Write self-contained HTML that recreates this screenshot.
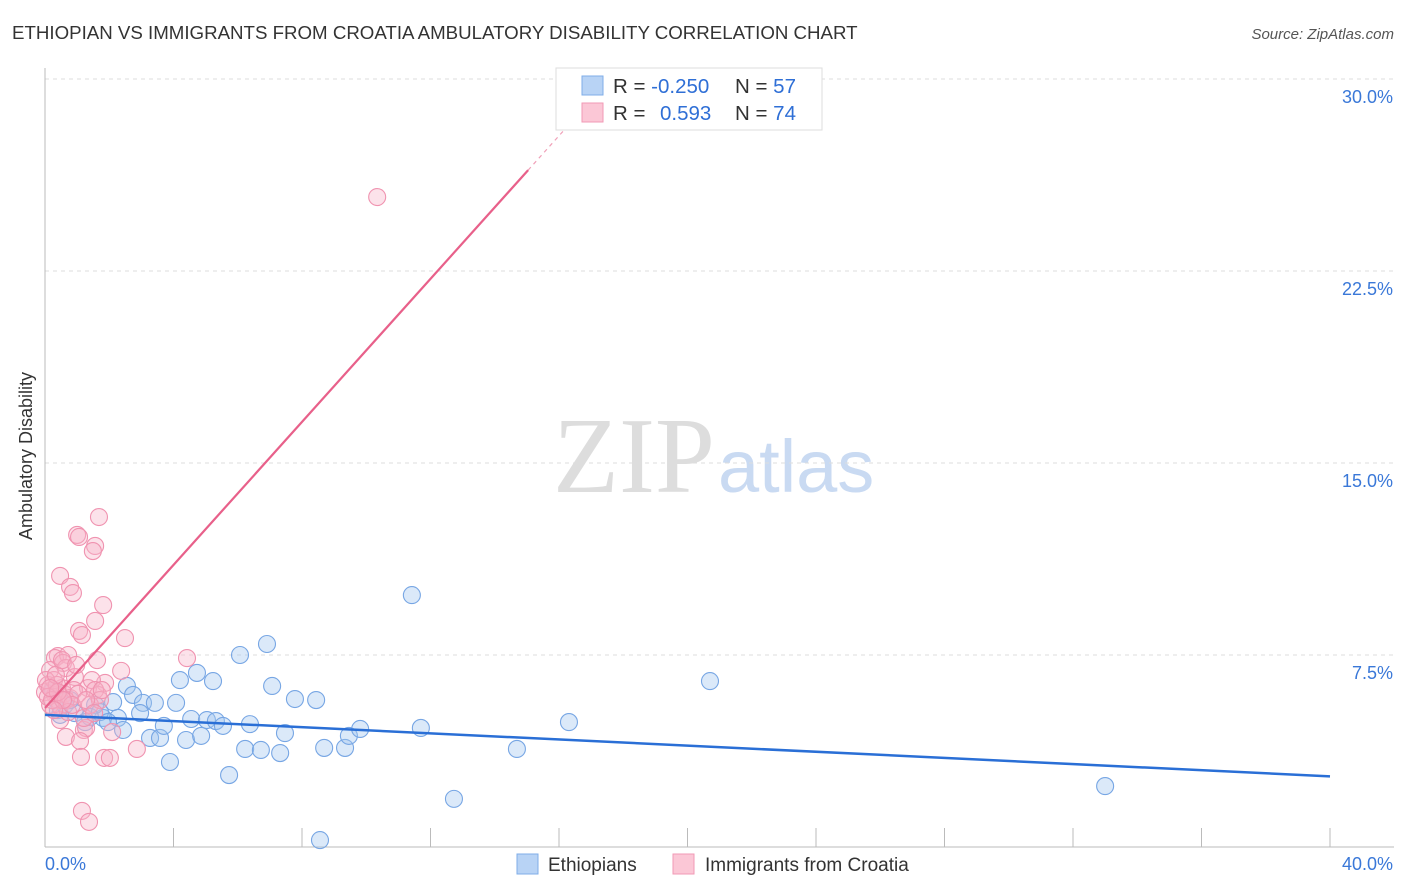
<!DOCTYPE html>
<html><head><meta charset="utf-8"><style>
body{margin:0;background:#fff;font-family:"Liberation Sans",sans-serif}
svg{display:block}
</style></head><body>
<svg width="1406" height="892" id="c">
<text x="12" y="39" font-size="18.7" fill="#333">ETHIOPIAN VS IMMIGRANTS FROM CROATIA AMBULATORY DISABILITY CORRELATION CHART</text>
<text x="1394" y="39" font-size="15" fill="#555" font-style="italic" text-anchor="end">Source: ZipAtlas.com</text>
<text x="32" y="456" font-size="18" fill="#333" text-anchor="middle" transform="rotate(-90 32 456)">Ambulatory Disability</text>
<g>
<text x="553" y="492" font-family="Liberation Serif,serif" font-size="108" fill="#ddd">ZIP</text>
<text x="718" y="492" font-size="74" fill="#c9daf2">atlas</text>
</g>
<g id="grid"></g><g id="axes"></g><g id="marks"></g>
<g>
<rect x="556" y="68" width="266" height="62" fill="#fff" stroke="#ddd"/>
<rect x="582" y="76" width="21" height="19" fill="#b8d3f5" stroke="#7faee8"/>
<rect x="582" y="103" width="21" height="19" fill="#fbc7d6" stroke="#f19ab5"/>
<text x="613" y="93" font-size="20.5" fill="#333">R = <tspan fill="#2f6fd6">-0.250</tspan></text>
<text x="735" y="93" font-size="20.5" fill="#333">N = <tspan fill="#2f6fd6">57</tspan></text>
<text x="613" y="120" font-size="20.5" fill="#333">R = </text>
<text x="660" y="120" font-size="20.5" fill="#2f6fd6">0.593</text>
<text x="735" y="120" font-size="20.5" fill="#333">N = <tspan fill="#2f6fd6">74</tspan></text>
</g>
<g>
<rect x="517" y="854" width="21" height="20" fill="#b8d3f5" stroke="#7faee8"/>
<text x="548" y="871" font-size="19" fill="#333">Ethiopians</text>
<rect x="673" y="854" width="21" height="20" fill="#fbc7d6" stroke="#f19ab5"/>
<text x="705" y="871" font-size="19" fill="#333">Immigrants from Croatia</text>
</g>
</svg>
<script>
const yTicks=[7.5,15,22.5,30];
const yTickLabels=["7.5%","15.0%","22.5%","30.0%"];
const xTickLabels=["0.0%","40.0%"];
const blueX=[2.55,2.74,3.05,3.42,2.12,1.81,2.27,2.43,2.96,3.27,3.58,3.89,3.70,4.08,4.20,4.39,4.55,4.73,4.86,5.04,5.23,5.32,5.54,5.73,6.07,6.23,6.38,6.72,6.91,7.07,7.32,7.47,7.78,8.44,8.69,8.56,9.34,9.46,9.81,11.42,11.70,12.73,14.69,16.31,20.70,33.00,0.25,0.40,0.62,0.93,1.25,1.56,0.78,0.47,1.40,1.71,1.96];
const blueY=[6.29,5.94,5.63,5.63,5.66,5.04,5.04,4.57,5.23,4.26,4.26,3.32,4.73,5.63,6.52,4.18,5.00,6.80,4.34,4.96,6.48,4.92,4.73,2.81,7.50,3.83,4.80,3.79,7.93,6.29,3.67,4.45,5.78,5.74,3.87,0.27,3.87,4.34,4.61,9.84,4.65,1.88,3.83,4.88,6.48,2.38,6.13,5.35,5.55,5.23,4.88,5.55,5.74,5.16,5.08,5.27,4.88];
const pinkX=[10.34,1.68,1.00,1.06,1.56,1.49,0.47,0.78,0.87,1.81,1.56,1.06,1.15,2.49,0.40,0.31,0.72,1.62,4.42,2.37,0.56,0.16,0.65,0.93,1.34,1.87,1.46,1.65,2.09,1.21,1.28,0.65,1.09,1.12,1.84,2.02,2.86,1.15,1.37,0.09,0.22,0.31,0.40,0.53,0.00,0.16,0.28,0.47,0.59,0.78,0.90,0.37,0.09,0.22,0.03,0.65,1.03,1.21,1.40,1.56,1.71,0.47,0.72,0.84,0.34,0.53,0.97,1.28,1.53,1.77,0.40,0.56,0.16,0.28];
const pinkY=[25.39,12.89,12.19,12.11,11.76,11.56,10.59,10.16,9.92,9.45,8.83,8.44,8.28,8.16,7.46,7.38,7.50,7.30,7.38,6.88,7.19,6.91,6.99,6.64,6.21,6.41,6.52,5.94,4.49,4.57,4.65,4.30,4.14,3.52,3.48,3.48,3.83,1.41,0.98,6.33,6.13,5.94,5.74,6.21,6.05,5.55,6.52,5.51,5.98,5.82,6.13,6.33,5.86,5.74,6.52,5.74,5.98,5.04,5.55,6.13,5.74,4.96,5.27,5.55,6.72,7.30,7.11,5.74,5.23,6.13,6.05,5.74,6.21,5.35];
const blueTrend=[5.16,-0.06];   // intercept, slope
const pinkTrend=[5.43,1.397];
const X0=45,X1=1330,Y0=847,Y1=79;
const sx=v=>X0+(X1-X0)*v/40, sy=v=>Y0-(Y0-Y1)*v/30;
const NS="http://www.w3.org/2000/svg";
function mk(t,a,p){const e=document.createElementNS(NS,t);for(const k in a)e.setAttribute(k,a[k]);p.appendChild(e);return e;}
const grid=document.getElementById('grid'),axes=document.getElementById('axes'),marks=document.getElementById('marks');
yTicks.forEach((v,i)=>{
 const l=mk('line',{x1:X0,x2:1394,y1:sy(v),y2:sy(v),stroke:'#ddd','stroke-dasharray':'4,4'},grid);
 
 
 const t=mk('text',{x:1393,y:sy(v)+24,'font-size':18,fill:'#3a78d8','text-anchor':'end'},axes);
 t.textContent=yTickLabels[i];
 
 
});
let a=mk('line',{x1:X0,x2:X0,y1:68,y2:Y0,stroke:'#bbb'},axes);


a=mk('line',{x1:X0,x2:1394,y1:Y0,y2:Y0,stroke:'#bbb'},axes);


for(let i=0;i<=10;i++){
 const t=mk('line',{x1:sx(i*4),x2:sx(i*4),y1:828,y2:Y0,stroke:'#bbb'},axes);
 
 
}
[[0,'start',45],[40,'end',1393]].forEach((d,i)=>{
 const t=mk('text',{x:d[2],y:870,'font-size':18,fill:'#3a78d8','text-anchor':d[1]},axes);
 t.textContent=xTickLabels[i];
 
 
});
function pts(xs,ys,fill,stroke,name){
 xs.forEach((x,i)=>{
  const c=mk('circle',{cx:sx(x),cy:sy(ys[i]),r:8.5,fill:fill,stroke:stroke,'stroke-width':1.1},marks);
  
  
 });
}
pts(blueX,blueY,'rgba(160,196,240,0.38)','#77a6e4','ethiopian-point');
pts(pinkX,pinkY,'rgba(248,178,200,0.38)','#f093b0','croatia-point');
let l=mk('line',{x1:sx(0),y1:sy(blueTrend[0]),x2:sx(40),y2:sy(blueTrend[0]+40*blueTrend[1]),stroke:'#2a6fd6','stroke-width':2.5},marks);


const pe=15.04,pd=16.6;
l=mk('line',{x1:sx(0),y1:sy(pinkTrend[0]),x2:sx(pe),y2:sy(pinkTrend[0]+pe*pinkTrend[1]),stroke:'#e8608a','stroke-width':2.2},marks);


l=mk('line',{x1:sx(pe),y1:sy(pinkTrend[0]+pe*pinkTrend[1]),x2:sx(pd),y2:sy(pinkTrend[0]+pd*pinkTrend[1]),stroke:'#f0a0b8','stroke-width':1.2,'stroke-dasharray':'4,4'},marks);


</script>
</body></html>
